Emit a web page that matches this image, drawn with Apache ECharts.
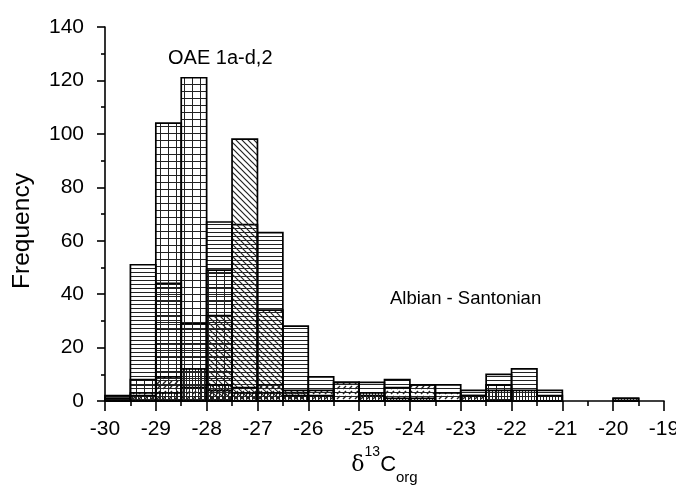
<!DOCTYPE html>
<html>
<head>
<meta charset="utf-8">
<script src="https://cdn.jsdelivr.net/npm/echarts@6/dist/echarts.min.js"></script>
<style>
html,body{margin:0;padding:0;background:#fff;}
#chart{width:676px;height:485px;}
</style>
</head>
<body>
<div id="chart"></div>
<script>
// Histogram bins: left edges, 0.5 per mil wide
const binStarts = [-30,-29.5,-29,-28.5,-28,-27.5,-27,-26.5,-26,-25.5,-25,-24.5,-24,-23.5,-23,-22.5,-22,-21.5,-21,-20.5,-20,-19.5];
const binWidth = 0.5;

// Counts per bin for each overlaid group
const countsHorizontal = [2,51,44,29,67,66,63,28,9,7,7,8,6,6,4,10,12,4,0,0,1,0];
const countsGrid       = [1,8,104,121,49,0,0,0,0,0,0,0,0,0,0,6,0,0,0,0,0,0];
const countsBackslash  = [0,0,0,0,32,98,34,3,0,0,0,0,0,0,0,0,0,0,0,0,0,0];
const countsSlashDash  = [1,3,9,5,4,5,6,4,4,7,2,5,6,3,2,0,0,0,0,0,0,0];
const countsVertical   = [0,2,3,12,6,3,3,2,2,0,3,1,1,0,2,4,4,2,0,0,1,0];

// Axis ticks
const xTicks = [-30,-29,-28,-27,-26,-25,-24,-23,-22,-21,-20,-19];
const yTicks = [0,20,40,60,80,100,120,140];

const FONT = '"Liberation Sans", Arial, Helvetica, sans-serif';

function makePattern(w, h, draw) {
  const c = document.createElement('canvas');
  c.width = w; c.height = h;
  const ctx = c.getContext('2d');
  ctx.strokeStyle = '#222';
  ctx.lineWidth = 1;
  draw(ctx, w, h);
  return { image: c, repeat: 'repeat' };
}

const patHorizontal = makePattern(4, 4, (ctx, w) => {
  ctx.beginPath(); ctx.moveTo(0, 0.5); ctx.lineTo(w, 0.5); ctx.stroke();
});
const patGrid = makePattern(8, 7, (ctx, w, h) => {
  ctx.beginPath();
  ctx.moveTo(0, 0.5); ctx.lineTo(w, 0.5);
  ctx.moveTo(0.5, 0); ctx.lineTo(0.5, h);
  ctx.stroke();
});
const patBackslash = makePattern(6, 6, (ctx, w, h) => {
  ctx.lineWidth = 1.2;
  ctx.beginPath();
  ctx.moveTo(-1, -1); ctx.lineTo(w + 1, h + 1);
  ctx.moveTo(w - 1, -1); ctx.lineTo(w + 1, 1);
  ctx.moveTo(-1, h - 1); ctx.lineTo(1, h + 1);
  ctx.stroke();
});
const patSlashDash = makePattern(6, 5, (ctx) => {
  ctx.lineWidth = 1.5;
  ctx.beginPath(); ctx.moveTo(1, 4); ctx.lineTo(4, 1); ctx.stroke();
});
const patVertical = makePattern(3, 4, (ctx, w, h) => {
  ctx.beginPath(); ctx.moveTo(0.5, 0); ctx.lineTo(0.5, h); ctx.stroke();
});

function histSeries(name, counts, pattern) {
  return {
    name: name,
    type: 'custom',
    data: binStarts.map((x, i) => [x, counts[i]]),
    encode: { x: 0, y: 1 },
    renderItem: function (params, api) {
      const x0 = api.value(0);
      const v = api.value(1);
      if (!v) return null;
      const pTop = api.coord([x0, v]);
      const pBot = api.coord([x0 + binWidth, 0]);
      return {
        type: 'rect',
        shape: { x: pTop[0], y: pTop[1], width: pBot[0] - pTop[0], height: pBot[1] - pTop[1] },
        style: { fill: pattern, stroke: '#000', lineWidth: 1.7 }
      };
    },
    silent: true
  };
}

const chart = echarts.init(document.getElementById('chart'), null, { renderer: 'canvas' });

chart.setOption({
  animation: false,
  backgroundColor: '#fff',
  textStyle: { fontFamily: FONT },
  grid: { left: 105, right: 12, top: 27, bottom: 84, outerBoundsMode: 'none', containLabel: false },
  xAxis: {
    type: 'value',
    min: xTicks[0], max: xTicks[xTicks.length - 1], interval: 1,
    axisLine: { show: true, onZero: false, lineStyle: { color: '#000', width: 1.6 } },
    axisTick: { show: true, inside: false, length: 10, lineStyle: { color: '#000', width: 1.6 } },
    minorTick: { show: true, splitNumber: 2, length: 5, lineStyle: { color: '#000', width: 1.6 } },
    splitLine: { show: false },
    axisLabel: { color: '#000', fontSize: 21, fontFamily: FONT, margin: 18 },
    name: '{d|δ}{sup|13}{c|C}{sub|org}',
    nameLocation: 'middle',
    nameGap: 42,
    nameTextStyle: {
      color: '#000', fontFamily: FONT,
      rich: {
        d: { fontSize: 22, lineHeight: 40, fontFamily: '"DejaVu Serif", "Liberation Serif", serif', color: '#000' },
        sup: { fontSize: 14, lineHeight: 14, verticalAlign: 'top', color: '#000', fontFamily: FONT },
        c: { fontSize: 22, lineHeight: 40, color: '#000', fontFamily: FONT },
        sub: { fontSize: 15, lineHeight: 14, verticalAlign: 'bottom', color: '#000', fontFamily: FONT }
      }
    }
  },
  yAxis: {
    type: 'value',
    min: yTicks[0], max: yTicks[yTicks.length - 1], interval: 20,
    axisLine: { show: true, lineStyle: { color: '#000', width: 1.6 } },
    axisTick: { show: true, inside: false, length: 8, lineStyle: { color: '#000', width: 1.6 } },
    minorTick: { show: true, splitNumber: 2, length: 4, lineStyle: { color: '#000', width: 1.6 } },
    splitLine: { show: false },
    axisLabel: { color: '#000', fontSize: 21, fontFamily: FONT, margin: 21 },
    name: 'Frequency',
    nameLocation: 'middle',
    nameGap: 70,
    nameRotate: 90,
    nameTextStyle: { color: '#000', fontSize: 24.5, fontFamily: FONT, padding: [0, 34, 0, 0] }
  },
  graphic: [
    { type: 'text', left: 168, top: 48, style: { text: 'OAE 1a-d,2', font: '20px ' + FONT, fill: '#000' } },
    { type: 'text', left: 390, top: 289, style: { text: 'Albian - Santonian', font: '18.5px ' + FONT, fill: '#000' } }
  ],
  series: [
    histSeries('Albian–Santonian', countsHorizontal, patHorizontal),
    histSeries('OAE 1a-d,2', countsGrid, patGrid),
    histSeries('Group C', countsBackslash, patBackslash),
    histSeries('Group D', countsSlashDash, patSlashDash),
    histSeries('Group E', countsVertical, patVertical)
  ]
});
</script>
</body>
</html>
